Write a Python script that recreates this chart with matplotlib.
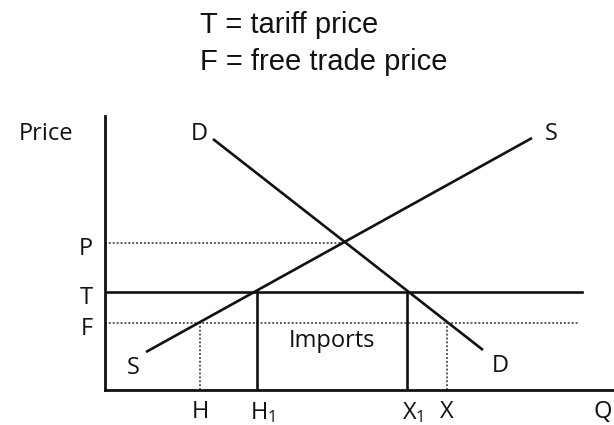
import matplotlib
matplotlib.use("Agg")
import matplotlib.pyplot as plt
import matplotlib.transforms as mtransforms

# quantity / price values
supply_q = [4.1, 42.7]
supply_p = [3.8, 25.2]
demand_q = [10.8, 37.8]
demand_p = [25.1, 4.0]

price_P = 14.7
price_T = 9.8
price_F = 6.7
price_labels = ["P", "T", "F"]

q_H = 9.5
q_H1 = 15.2
q_X1 = 30.2
q_X = 34.2
qty_labels = ["H", "H$_\\mathregular{1}$", "X$_\\mathregular{1}$", "X"]

p_line_end = 23.7
t_line_end = 47.7
f_line_end = 47.3

q_max = 50.9
p_max = 27.4

plt.rcParams["mathtext.fontset"] = "custom"
plt.rcParams["mathtext.rm"] = "Open Sans"
plt.rcParams["mathtext.it"] = "Open Sans:italic"

label_font = dict(family="Open Sans", size=17, color="#111111")
ink = "#111111"
dots = "#5a5a5a"

fig = plt.figure(figsize=(6.14, 4.25), dpi=100, facecolor="white")
ax = fig.add_axes([105 / 614, 35 / 425, 509 / 614, 274 / 425])
ax.set_xlim(0, q_max)
ax.set_ylim(0, p_max)
for side in ["top", "right"]:
    ax.spines[side].set_visible(False)
for side in ["left", "bottom"]:
    ax.spines[side].set_linewidth(2.0)
    ax.spines[side].set_color(ink)

# dotted guide lines
ax.plot([0, p_line_end], [price_P, price_P], ls=(0, (1, 1)), lw=1.4, color=dots)
ax.plot([0, f_line_end], [price_F, price_F], ls=(0, (1, 1)), lw=1.4, color=dots)
ax.plot([q_H, q_H], [0, price_F], ls=(0, (1, 1)), lw=1.4, color=dots)
ax.plot([q_X, q_X], [0, price_F], ls=(0, (1, 1)), lw=1.4, color=dots)

# tariff line and import bounds
ax.plot([0, t_line_end], [price_T, price_T], lw=1.9, color=ink)
ax.plot([q_H1, q_H1], [0, price_T], lw=1.9, color=ink)
ax.plot([q_X1, q_X1], [0, price_T], lw=1.9, color=ink)

# supply and demand
ax.plot(supply_q, supply_p, lw=1.9, color=ink, solid_capstyle="butt")
ax.plot(demand_q, demand_p, lw=1.9, color=ink, solid_capstyle="butt")

# axis ticks as letters
ax.set_yticks([price_P, price_T, price_F])
ax.set_yticklabels(price_labels, **label_font)
ax.set_xticks([q_H, q_H1, q_X1, q_X])
ax.set_xticklabels(qty_labels, **label_font)
ax.tick_params(axis="both", length=0)
ax.tick_params(axis="y", pad=9)
ax.tick_params(axis="x", pad=7)
for lab in ax.get_yticklabels():
    lab.set_transform(lab.get_transform() +
                      mtransforms.ScaledTranslation(0, -3 / 100, fig.dpi_scale_trans))
for lab in ax.get_xticklabels()[1:3]:
    lab.set_transform(lab.get_transform() +
                      mtransforms.ScaledTranslation(6 / 100, 0, fig.dpi_scale_trans))

# curve labels
ax.annotate("D", (demand_q[0], demand_p[0]), xytext=(-14, 5), textcoords="offset pixels",
            ha="center", va="center", **label_font)
ax.annotate("D", (demand_q[1], demand_p[1]), xytext=(17, -16), textcoords="offset pixels",
            ha="center", va="center", **label_font)
ax.annotate("S", (supply_q[1], supply_p[1]), xytext=(19, 4), textcoords="offset pixels",
            ha="center", va="center", **label_font)
ax.annotate("S", (supply_q[0], supply_p[0]), xytext=(-13, -16), textcoords="offset pixels",
            ha="center", va="center", **label_font)
ax.annotate("Imports", ((q_H1 + q_X1) / 2, price_F), xytext=(0, -18), textcoords="offset pixels",
            ha="center", va="center", **label_font)
ax.annotate("Price", (0, p_max), xytext=(-59, -18), textcoords="offset pixels",
            ha="center", va="center", annotation_clip=False, **label_font)
ax.annotate("Q", (q_max, 0), xytext=(-11, -22), textcoords="offset pixels",
            ha="center", va="center", annotation_clip=False, **label_font)

fig.text(200 / 614, 1 - 33.3 / 425, "T = tariff price", family="Liberation Sans",
         size=21, color="#111111", ha="left", va="baseline")
fig.text(200 / 614, 1 - 70 / 425, "F = free trade price", family="Liberation Sans",
         size=21, color="#111111", ha="left", va="baseline")

fig.savefig("out.png", dpi=100, facecolor="white")
